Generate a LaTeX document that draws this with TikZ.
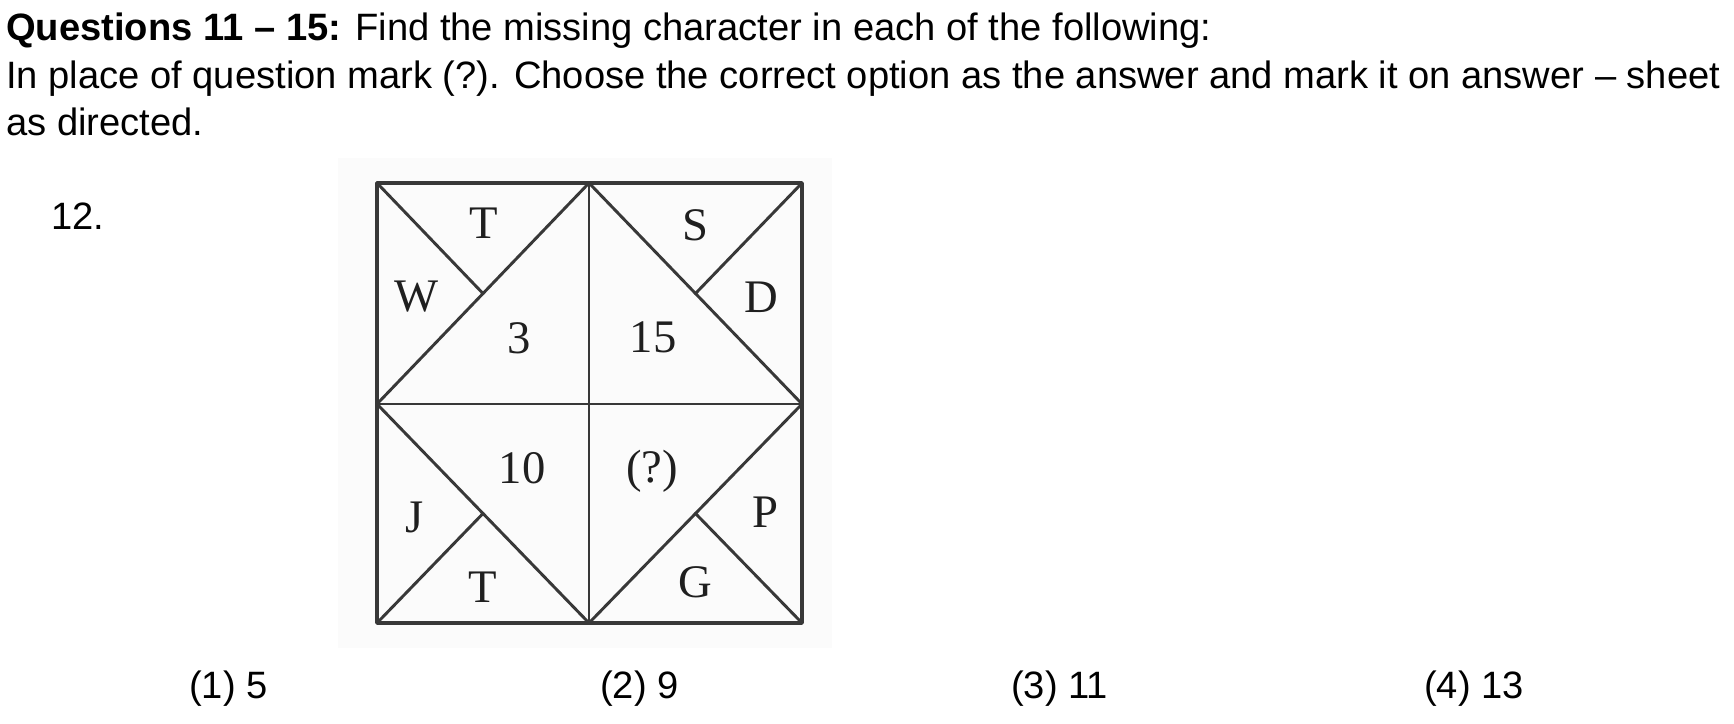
\documentclass[tikz,border=0pt]{standalone}
\usepackage{fontspec}
\setmainfont{Liberation Sans}
\newfontfamily\figserif{Liberation Serif}
\begin{document}
\begin{tikzpicture}[x=0.75pt,y=-0.75pt,
  txt/.style={anchor=base west, inner sep=0pt, font=\fontsize{28.6}{34}\selectfont},
  lbl/.style={inner sep=0pt, font=\figserif\fontsize{35}{40}\selectfont, text=black!88},
  frameline/.style={draw=black!78, line width=2.7pt, line join=round},
  gridline/.style={draw=black!78, line width=2.2pt, line cap=round}]
\useasboundingbox[fill=white] (0,0) rectangle (1734,724);
\fill[black!1.5] (338,158) rectangle (832,648);
% grid points
\coordinate (A) at (377,183);
\coordinate (B) at (589,183);
\coordinate (C) at (802,183);
\coordinate (D) at (377,404);
\coordinate (E) at (589,404);
\coordinate (F) at (802,404);
\coordinate (G) at (377,623);
\coordinate (H) at (589,623);
\coordinate (I) at (802,623);
\coordinate (c1) at (483,293.5);
\coordinate (c2) at (695.5,293.5);
\coordinate (c3) at (483,513.5);
\coordinate (c4) at (695.5,513.5);
% lines
\draw[gridline] (B) -- (H);
\draw[gridline] (D) -- (F);
\draw[gridline] (D) -- (B);
\draw[gridline] (A) -- (c1);
\draw[gridline] (B) -- (F);
\draw[gridline] (C) -- (c2);
\draw[gridline] (D) -- (H);
\draw[gridline] (G) -- (c3);
\draw[gridline] (H) -- (F);
\draw[gridline] (I) -- (c4);
\draw[frameline] (A) rectangle (I);
% labels in the figure
\node[lbl] (t1) at (484,223) {T};
\node[lbl] (w) at (417,297) {W};
\node[lbl] (n3) at (519,338) {3};
\node[lbl] (s) at (695,225) {S};
\node[lbl] (d) at (761,297) {D};
\node[lbl] (n15) at (653,337) {15};
\node[lbl] (n10) at (522,468) {10};
\node[lbl] (qm) at (652,471) {(?)};
\node[lbl] (j) at (415,517) {J};
\node[lbl] (p) at (765,512) {P};
\node[lbl] (t2) at (483,587) {T};
\node[lbl] (g) at (695,582) {G};
% header text
\node[txt] (l1) at (6,40.7) {\textbf{Questions 11 – 15:} Find the missing character in each of the following:};
\node[txt] (l2) at (6,88.3) {In place of question mark (?). Choose the correct option as the answer and mark it on answer – sheet};
\node[txt] (l3) at (6,135) {as directed.};
\node[txt] (num) at (51,229) {12.};
% options
\node[txt] (o1) at (189,698) {(1) 5};
\node[txt] (o2) at (600,698) {(2) 9};
\node[txt] (o3) at (1011,698) {(3) 11};
\node[txt] (o4) at (1424,698) {(4) 13};
\end{tikzpicture}
\end{document}
